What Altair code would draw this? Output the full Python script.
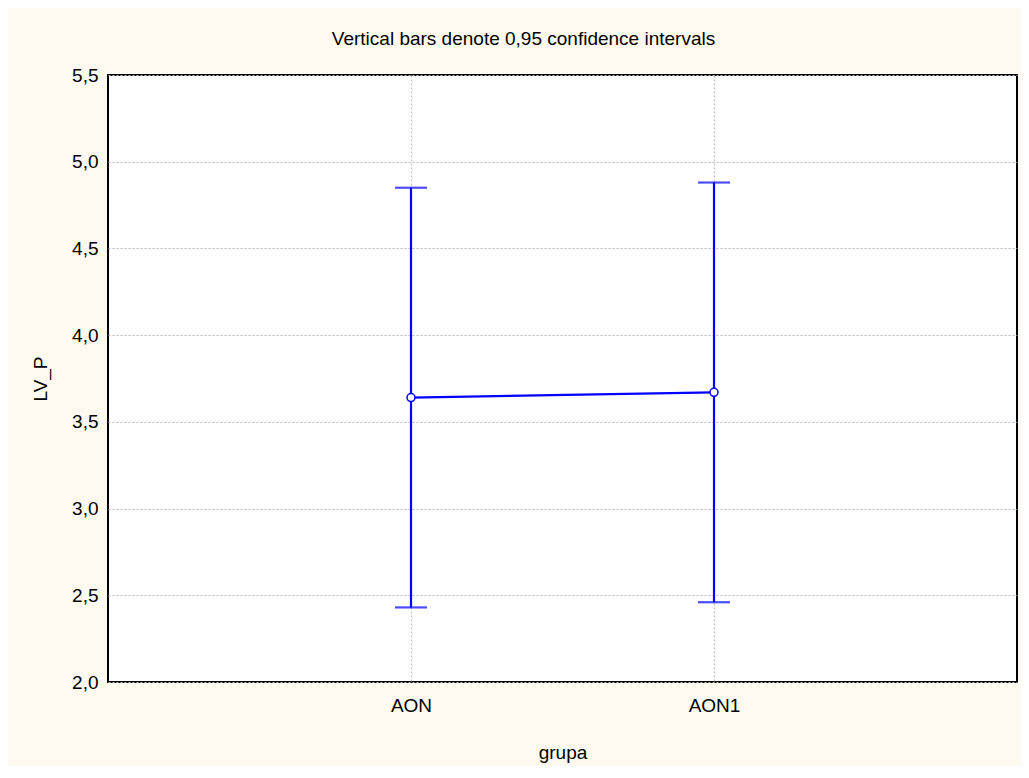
import altair as alt
import pandas as pd

groups = ["AON", "AON1"]
means = [3.64, 3.67]
lowers = [2.43, 2.46]
uppers = [4.85, 4.88]
y_ticks = [2.0, 2.5, 3.0, 3.5, 4.0, 4.5, 5.0, 5.5]

df = pd.DataFrame({"grupa": groups, "mean": means, "lower": lowers, "upper": uppers})

FONT = "Liberation Sans"
BLUE = "#0000FF"
FS = 19

x_enc = alt.X(
    "grupa:N",
    sort=groups,
    scale=alt.Scale(type="point", padding=1),
    axis=alt.Axis(
        title="grupa",
        labelAngle=0,
        labelFont=FONT,
        labelFontSize=FS,
        labelColor="black",
        labelPadding=14,
        labelBaseline="top",
        ticks=False,
        domain=False,
        grid=True,
        gridColor="#BBBBBB",
        gridDash=[2, 2],
        gridWidth=1,
        titleFont=FONT,
        titleFontSize=FS,
        titleFontWeight="normal",
        titleColor="black",
        titleY=76,
        titleBaseline="alphabetic",
    ),
)

y_scale = alt.Scale(domain=[2.0, 5.5], nice=False, zero=False)
y_axis = alt.Axis(
    title="LV_P",
    values=y_ticks,
    labelExpr="replace(format(datum.value, '.1f'), '.', ',')",
    labelFont=FONT,
    labelFontSize=FS,
    labelColor="black",
    labelPadding=10,
    ticks=False,
    domain=False,
    grid=True,
    gridColor="#BBBBBB",
    gridDash=[2, 2],
    gridWidth=1,
    titleFont=FONT,
    titleFontSize=FS,
    titleFontWeight="normal",
    titleColor="black",
    titleAngle=270,
    titleX=-68,
    titleY=303.5,
    titleAlign="center",
    titleBaseline="middle",
)

base = alt.Chart(df)

rule = base.mark_rule(color=BLUE, strokeWidth=2.2).encode(
    x=x_enc,
    y=alt.Y("lower:Q", scale=y_scale, axis=y_axis),
    y2="upper:Q",
)
cap_lo = base.mark_tick(color=BLUE, size=32, thickness=2.2).encode(
    x=x_enc, y=alt.Y("lower:Q", scale=y_scale)
)
cap_hi = base.mark_tick(color=BLUE, size=32, thickness=2.2).encode(
    x=x_enc, y=alt.Y("upper:Q", scale=y_scale)
)
line = base.mark_line(color=BLUE, strokeWidth=2.2).encode(
    x=x_enc, y=alt.Y("mean:Q", scale=y_scale)
)
pts = base.mark_point(
    shape="circle", filled=True, fill="white", stroke=BLUE, strokeWidth=1.5, size=64, opacity=1
).encode(x=x_enc, y=alt.Y("mean:Q", scale=y_scale))

chart = (
    alt.layer(rule, cap_lo, cap_hi, line, pts)
    .properties(
        width=909,
        height=607,
        autosize=alt.AutoSizeParams(type="none"),
        padding={"left": 100, "top": 67, "right": 4, "bottom": 84},
        background="#FEFAEF",
        title=alt.TitleParams(
            "Vertical bars denote 0,95 confidence intervals",
            font=FONT,
            fontSize=FS,
            fontWeight="normal",
            color="black",
            anchor="middle",
            dx=-39,
            offset=30,
            dy=28,
            baseline="alphabetic",
        ),
    )
    .configure_view(stroke="black", strokeWidth=2, fill="white")
)

chart.save("out.html", embed_options={"renderer": "svg", "actions": False})
